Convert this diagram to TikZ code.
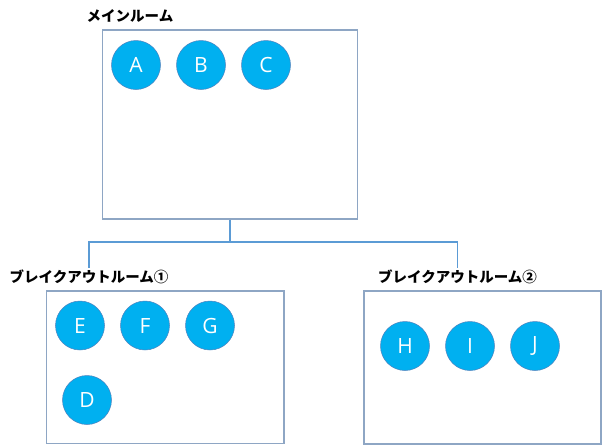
\documentclass[tikz,border=0pt]{standalone}
\usepackage{fontspec}
\newfontfamily\jp{Noto Sans CJK JP}
\setsansfont{Open Sans}
\definecolor{member}{HTML}{00B0F0}
\definecolor{memberline}{HTML}{4F81BD}
\definecolor{roomline}{HTML}{8EA6C4}
\definecolor{treeline}{HTML}{5B9BD5}
\begin{document}
\begin{tikzpicture}[x=1pt, y=-1pt,
  room/.style={draw=roomline, line width=1.2pt, inner sep=0pt},
  roomname/.style={font=\jp\bfseries\fontsize{14.5}{16}\selectfont, inner sep=2pt},
  person/.style={circle, fill=member, draw=memberline, line width=.5pt, minimum size=49pt, inner sep=0pt,
    text=white, font=\sffamily\fontsize{21}{24}\selectfont}]
\useasboundingbox (0,0) rectangle (603,445);
% rooms
\node[room, minimum width=255pt, minimum height=189pt] (main) at (230,124.5) {};
\node[room, minimum width=237.5pt, minimum height=152.5pt] (room1) at (165.25,367.25) {};
\node[room, minimum width=237pt, minimum height=153pt] (room2) at (482.5,367.5) {};
\node[roomname] (mainname) at (130,16) {メインルーム};
\node[roomname] (name1) at (89,277) {ブレイクアウトルーム①};
\node[roomname] (name2) at (457.5,277) {ブレイクアウトルーム②};
% tree
\coordinate (fork) at (230,242);
\draw[treeline, line width=1.2pt](main.south)--(fork);
\draw[treeline, line width=1.2pt](name1.north)|-(fork)-|(name2.north);
% members
\foreach \n/\x/\y in {A/136/65, B/201/65, C/266/65, E/80/325.5, F/145/325.5, G/210/325.5,
  D/87/400, H/405/346, I/470/346, J/535/346}
{
    \node[person] (\n) at (\x,\y) {\n};
}
\end{tikzpicture}
\end{document}
